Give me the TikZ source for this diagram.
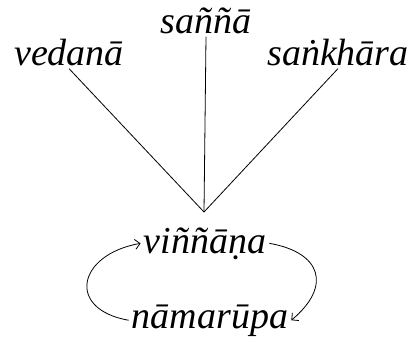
\documentclass[tikz,border=0pt]{standalone}
\usepackage{fontspec}
\setmainfont{Liberation Serif}[ItalicFont={Liberation Serif Italic}]
\usetikzlibrary{arrows,arrows.meta,calc,positioning}

\tikzset{
  pali/.style={font=\fontsize{38}{40}\selectfont\itshape, anchor=base, inner sep=3pt},
  link/.style={line width=0.8pt},
  cycle/.style={-{Straight Barb[length=5pt,width=10pt]}, line width=0.8pt},
}

\begin{document}
\begin{tikzpicture}[x=1pt, y=-1pt]
  \useasboundingbox (0,0) rectangle (418,341);

  % the three aggregates on top
  \node[pali] (ved) at (69,65) {vedanā};
  \node[pali] (san) at (206,33) {saññā};
  \node[pali] (sam) at (338,65) {saṅkhāra};

  % the cycle below
  \node[pali] (vin) at (205,253) {viññāṇa};
  \node[pali] (nam) at (210,328) {nāmarūpa};

  \coordinate (hub) at (204,212);

  \draw[link] (ved.south) -- (hub);
  \draw[link] (san.south) -- (hub);
  \draw[link] (sam.south) -- (hub);

  % vinnana <-> namarupa
  \draw[cycle] (nam.west) to[out=170, in=190, looseness=2.1] (vin.west);
  \draw[cycle] (vin.east) to[out=-10, in=40, looseness=1.7] (nam.east);
\end{tikzpicture}
\end{document}
